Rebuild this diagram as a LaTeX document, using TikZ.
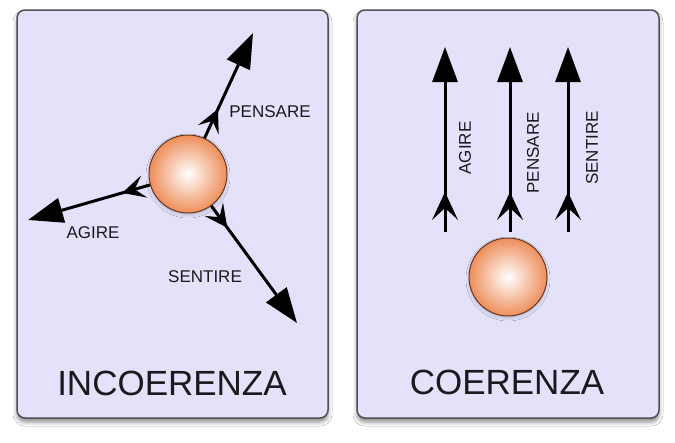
\documentclass[tikz,border=0pt]{standalone}
\usepackage{fontspec}
\setmainfont{Liberation Sans}
\usetikzlibrary{arrows.meta,shadows.blur,decorations.markings}
\definecolor{panelfill}{RGB}{228,226,251}
\definecolor{panelline}{RGB}{80,80,88}
\definecolor{sphorange}{RGB}{238,142,90}
\definecolor{sphline}{RGB}{100,55,32}
\definecolor{inkcol}{RGB}{25,25,30}
\begin{document}
\begin{tikzpicture}[x=1pt,y=-1pt,
  panel/.style={draw=panelline, line width=1.5pt, fill=panelfill, rounded corners=8pt,
    blur shadow={shadow xshift=0pt, shadow yshift=-4pt, shadow blur radius=4pt, shadow opacity=45}},
  sphere/.style={circle, minimum size=78pt, inner sep=0pt, draw=sphline, line width=1pt,
    inner color=white, outer color=sphorange,
    blur shadow={shadow xshift=0pt, shadow yshift=-2pt, shadow blur radius=3pt, shadow opacity=20}},
  flowbase/.style={line width=3pt, draw=black, -{Triangle[length=35pt,width=25pt]},
    postaction={decorate}},
  flow/.style={flowbase,
    decoration={markings, mark=at position #1 with {
      \fill[black] (1,0) -- (-27,13) -- (-15,0) -- (-27,-13) -- cycle;}}},
  flow/.default=39pt,
  flowS/.style={flowbase,
    decoration={markings, mark=at position #1 with {
      \fill[black] (1,0) -- (-22,11.5) -- (-12,0) -- (-22,-11.5) -- cycle;}}},
  flowS/.default=28pt,
  lbl/.style={font=\fontsize{17}{17}\selectfont, text=inkcol, inner sep=0pt},
  ttl/.style={font=\fontsize{35}{35}\selectfont, text=inkcol, inner sep=0pt}]
\useasboundingbox (0,0) rectangle (675,442);
\fill[white] (0,0) rectangle (675,442);

% panels
\draw[panel] (17,10) rectangle (328,418);
\draw[panel] (357,10) rectangle (659,418);

% left panel
\node[sphere] (s1) at (188,174) {};
\coordinate (pTip) at (253,33);
\coordinate (aTip) at (28,220);
\coordinate (sTip) at (297,323);
\draw[flowS=31pt] (s1) -- (pTip);
\draw[flowS=28pt] (s1) -- (aTip);
\draw[flowS=26pt] (s1) -- (sTip);
\node[lbl] (lP) at (270,112) {PENSARE};
\node[lbl] (lA) at (93,233) {AGIRE};
\node[lbl] (lS) at (205,277) {SENTIRE};
\node[ttl] (tI) at (172,383) {INCOERENZA};

% right panel
\node[sphere] (s2) at (508,277) {};
\coordinate (aB) at (445,232); \coordinate (aT) at (445,47);
\coordinate (pB) at (510,232); \coordinate (pT) at (510,47);
\coordinate (sB) at (568,232); \coordinate (sT) at (568,47);
\draw[flow] (aB) -- (aT);
\draw[flow] (pB) -- (pT);
\draw[flow] (sB) -- (sT);
\node[lbl, rotate=90] (rA) at (465,148) {AGIRE};
\node[lbl, rotate=90] (rP) at (533,153) {PENSARE};
\node[lbl, rotate=90] (rS) at (592,148) {SENTIRE};
\node[ttl] (tC) at (507,382) {COERENZA};
\end{tikzpicture}
\end{document}
